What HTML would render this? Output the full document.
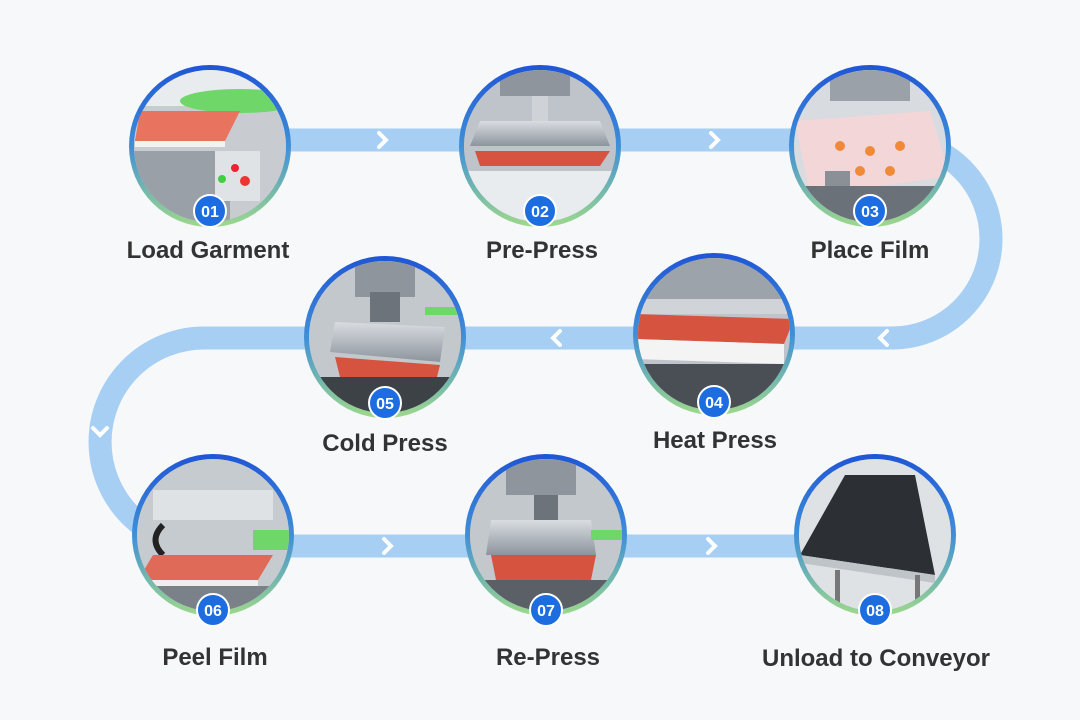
<!DOCTYPE html>
<html><head><meta charset="utf-8"><style>
html,body{margin:0;padding:0;background:#f7f8fa;}
svg{display:block}
text{font-family:"Liberation Sans",sans-serif;}
</style></head><body>
<svg width="1080" height="720" viewBox="0 0 1080 720" xmlns="http://www.w3.org/2000/svg">
<defs>
<linearGradient id="ring" x1="0" y1="0" x2="0" y2="1">
<stop offset="0" stop-color="#1f55d6"/><stop offset="0.5" stop-color="#3f8fd8"/><stop offset="1" stop-color="#9ed98a"/>
</linearGradient>
<linearGradient id="metal" x1="0" y1="0" x2="0" y2="1">
<stop offset="0" stop-color="#d9dde2"/><stop offset="1" stop-color="#8d949c"/>
</linearGradient>
<clipPath id="c"><circle cx="0" cy="0" r="76"/></clipPath>
<g id="base">
<circle r="81" fill="url(#ring)"/>
<circle r="76" fill="#b9bfc6"/>
</g>
</defs>
<rect width="1080" height="720" fill="#f7f8fa"/>
<path d="M210 140 H892 A99 99 0 0 1 892 338 H204 A104 104 0 0 0 204 546 H875" fill="none" stroke="#a6cff3" stroke-width="23"/>
<g fill="none" stroke="#fff" stroke-width="4" stroke-linecap="round">
<path d="M379 133 l7 7 l-7 7"/><path d="M711 133 l7 7 l-7 7"/>
<path d="M560 331 l-7 7 l7 7"/><path d="M887 331 l-7 7 l7 7"/>
<path d="M93 428 l7 7 l7 -7"/>
<path d="M384 539 l7 7 l-7 7"/><path d="M708 539 l7 7 l-7 7"/>
</g>

<!-- 01 -->
<g transform="translate(210,146)"><use href="#base"/><g clip-path="url(#c)">
<rect x="-80" y="-80" width="160" height="160" fill="#c8ccd1"/>
<rect x="-80" y="-80" width="160" height="40" fill="#e8ecef"/>
<ellipse cx="30" cy="-45" rx="60" ry="12" fill="#6fd66a"/>
<polygon points="-70,-35 30,-35 15,-5 -75,-5" fill="#e8735e"/>
<rect x="-75" y="-5" width="90" height="6" fill="#f2f2f2"/>
<rect x="-80" y="5" width="100" height="80" fill="#9aa0a7"/>
<rect x="5" y="5" width="45" height="50" fill="#e0e3e6"/>
<circle cx="25" cy="22" r="4" fill="#e23"/><circle cx="35" cy="35" r="5" fill="#e33"/><circle cx="12" cy="33" r="4" fill="#4c4"/>
</g></g>
<!-- 02 -->
<g transform="translate(540,146)"><use href="#base"/><g clip-path="url(#c)">
<rect x="-80" y="-80" width="160" height="160" fill="#bfc4ca"/>
<rect x="-40" y="-80" width="70" height="30" fill="#8e959c"/>
<rect x="-8" y="-50" width="16" height="30" fill="#cfd3d7"/>
<polygon points="-60,-25 60,-25 70,0 -70,0" fill="url(#metal)"/>
<polygon points="-65,5 70,5 60,20 -60,20" fill="#d6543f"/>
<rect x="-80" y="25" width="160" height="60" fill="#e9ecef"/>
</g></g>
<!-- 03 -->
<g transform="translate(870,146)"><use href="#base"/><g clip-path="url(#c)">
<rect x="-80" y="-80" width="160" height="160" fill="#d8dbdf"/>
<rect x="-40" y="-80" width="80" height="35" fill="#9aa1a8"/>
<polygon points="-75,-25 60,-35 80,30 -60,50" fill="#f3d6d8"/>
<g fill="#f08a3a"><circle cx="-30" cy="0" r="5"/><circle cx="0" cy="5" r="5"/><circle cx="30" cy="0" r="5"/><circle cx="-10" cy="25" r="5"/><circle cx="20" cy="25" r="5"/></g>
<rect x="-45" y="25" width="25" height="35" fill="#8a9096"/>
<rect x="-80" y="40" width="160" height="40" fill="#6b7178"/>
</g></g>
<!-- 05 -->
<g transform="translate(385,337)"><use href="#base"/><g clip-path="url(#c)">
<rect x="-80" y="-80" width="160" height="160" fill="#c3c8cd"/>
<rect x="-30" y="-80" width="60" height="40" fill="#8e959c"/>
<rect x="-15" y="-45" width="30" height="30" fill="#6d737a"/>
<polygon points="-50,-15 60,-10 55,25 -55,15" fill="url(#metal)"/>
<polygon points="-50,20 55,28 50,48 -45,40" fill="#d6543f"/>
<rect x="-80" y="40" width="160" height="40" fill="#3d4247"/>
<rect x="40" y="-30" width="40" height="8" fill="#6fd66a"/>
</g></g>
<!-- 04 -->
<g transform="translate(714,334)"><use href="#base"/><g clip-path="url(#c)">
<rect x="-80" y="-80" width="160" height="160" fill="#bfc4ca"/>
<rect x="-80" y="-80" width="160" height="45" fill="#9ca3aa"/>
<polygon points="-80,-35 80,-35 80,-20 -80,-20" fill="#d0d4d8"/>
<polygon points="-80,-20 80,-15 70,10 -80,5" fill="#d6543f"/>
<polygon points="-80,5 70,10 70,30 -80,25" fill="#f4f4f4"/>
<rect x="-80" y="30" width="160" height="50" fill="#4a4f55"/>
</g></g>
<!-- 06 -->
<g transform="translate(213,535)"><use href="#base"/><g clip-path="url(#c)">
<rect x="-80" y="-80" width="160" height="160" fill="#c6cbd0"/>
<rect x="-60" y="-45" width="120" height="30" fill="#dfe2e5"/>
<path d="M-50 -10 q-15 15 0 30" stroke="#222" stroke-width="6" fill="none"/>
<rect x="40" y="-5" width="40" height="20" fill="#6fd66a"/>
<polygon points="-60,20 60,20 45,45 -75,45" fill="#e06a58"/>
<rect x="-75" y="45" width="120" height="6" fill="#eee"/>
<rect x="-80" y="51" width="160" height="30" fill="#7b8188"/>
</g></g>
<!-- 07 -->
<g transform="translate(546,535)"><use href="#base"/><g clip-path="url(#c)">
<rect x="-80" y="-80" width="160" height="160" fill="#c3c8cd"/>
<rect x="-40" y="-80" width="70" height="40" fill="#8e959c"/>
<rect x="-12" y="-40" width="24" height="25" fill="#6d737a"/>
<polygon points="-55,-15 45,-15 50,20 -60,20" fill="url(#metal)"/>
<polygon points="-55,20 50,20 45,45 -50,45" fill="#d6543f"/>
<rect x="45" y="-5" width="35" height="10" fill="#6fd66a"/>
<rect x="-80" y="45" width="160" height="40" fill="#5a6066"/>
</g></g>
<!-- 08 -->
<g transform="translate(875,535)"><use href="#base"/><g clip-path="url(#c)">
<rect x="-80" y="-80" width="160" height="160" fill="#dfe2e5"/>
<polygon points="-30,-60 40,-60 60,40 -75,20" fill="#2c3035"/>
<polygon points="-75,20 60,40 60,48 -75,28" fill="#bfc4c9"/>
<rect x="-40" y="35" width="5" height="45" fill="#777"/><rect x="40" y="40" width="5" height="40" fill="#777"/>
</g></g>

<!-- badges -->
<g fill="#1e6de0" stroke="#fff" stroke-width="2">
<circle cx="210" cy="211" r="16"/><circle cx="540" cy="211" r="16"/><circle cx="870" cy="211" r="16"/>
<circle cx="385" cy="403" r="16"/><circle cx="714" cy="402" r="16"/>
<circle cx="213" cy="610" r="16"/><circle cx="546" cy="610" r="16"/><circle cx="875" cy="610" r="16"/>
</g>
<g fill="#fff" font-size="16" font-weight="bold" text-anchor="middle">
<text x="210" y="217">01</text><text x="540" y="217">02</text><text x="870" y="217">03</text>
<text x="385" y="409">05</text><text x="714" y="408">04</text>
<text x="213" y="616">06</text><text x="546" y="616">07</text><text x="875" y="616">08</text>
</g>
<g fill="#333" font-size="24" font-weight="bold" text-anchor="middle">
<text x="208" y="258">Load Garment</text>
<text x="542" y="258">Pre-Press</text>
<text x="870" y="258">Place Film</text>
<text x="385" y="451">Cold Press</text>
<text x="715" y="448">Heat Press</text>
<text x="215" y="665">Peel Film</text>
<text x="548" y="665">Re-Press</text>
<text x="876" y="666">Unload to Conveyor</text>
</g>
</svg>
</body></html>
